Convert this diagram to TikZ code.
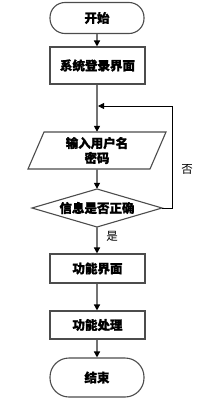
\documentclass[tikz,border=0pt]{standalone}
\usepackage{fontspec}
\newfontfamily\cjk{Noto Sans CJK SC}[BoldFeatures={FakeBold=1.2}]
\usetikzlibrary{arrows.meta,calc}
\tikzset{
  box/.style={draw=black!70, line width=1.1pt, minimum width=95pt, inner sep=0pt, font=\cjk\bfseries\fontsize{12.5}{15}\selectfont},
  term/.style={box, rounded corners=15pt, minimum width=94pt},
  ghost/.style={draw=none, inner sep=0pt, font=\cjk\bfseries\fontsize{12.5}{15}\selectfont, align=center},
  flow/.style={draw=black!55, line width=1.8pt, -{Triangle[width=6pt,length=6pt,black]}},
  back/.style={draw=black, line width=0.8pt, -{Triangle[width=6pt,length=6pt,black]}},
  lab/.style={font=\cjk\fontsize{11.5}{13}\selectfont, inner sep=0pt}
}
\begin{document}
\begin{tikzpicture}[x=1pt,y=-1pt]
\useasboundingbox (0,0) rectangle (216,399);
\node[term, minimum height=31pt] (start) at (97,18) {开始};
\node[box, minimum height=37pt] (login) at (97.5,65.5) {系统登录界面};
% parallelogram input
\draw[draw=black!70, line width=1.1pt] (44,132) -- (166,132) -- (150,169) -- (28,169) -- cycle;
\node[ghost, minimum width=106pt, minimum height=37pt] (input) at (97,150.5) {输入用户名\\密码};
% diamond
\draw[draw=black!70, line width=1.1pt] (97,189) -- (162,208) -- (97,227) -- (32,208) -- cycle;
\node[ghost, minimum width=130pt, minimum height=38pt] (check) at (97,208) {信息是否正确};
\node[box, minimum height=29pt] (func) at (97.5,268.5) {功能界面};
\node[box, minimum height=28pt] (proc) at (97.5,325) {功能处理};
\node[term, minimum height=39pt, rounded corners=19pt] (end) at (97,377.5) {结束};
\coordinate (join) at (97,106);
\coordinate (c1) at (172,208);
\coordinate (c2) at (172,106);
\draw[flow] (start.south -| 97,0) -- (login.north -| 97,0);
\draw[flow] (login.south -| 97,0) -- (input.north);
\draw[flow] (input.south) -- (check.north);
\draw[flow] (check.south) -- (func.north -| 97,0);
\draw[flow] (func.south -| 97,0) -- (proc.north -| 97,0);
\draw[flow] (proc.south -| 97,0) -- (end.north);
\draw[back] (check.east) -- (c1) -- (c2) -- ($(join)+(1,0)$);
\node[lab] (yes) at (112,236) {是};
\node[lab] (no) at (187,169) {否};
\end{tikzpicture}
\end{document}
